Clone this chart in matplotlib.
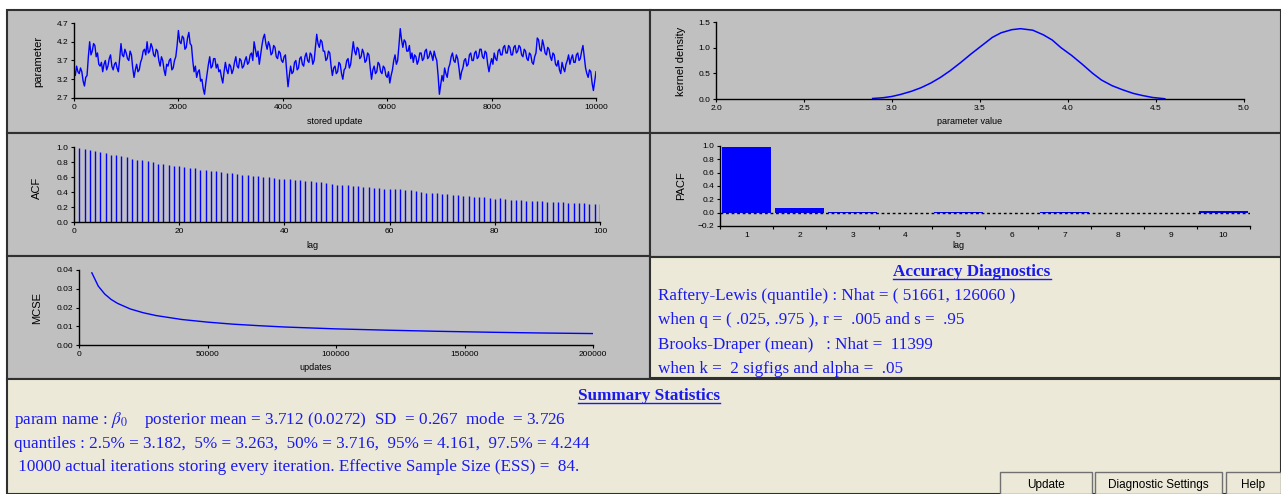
"""
MCMC diagnostics screen for beta_0 (trace, kernel density, ACF, PACF, MCSE + summary text).
"""
import numpy as np
import matplotlib
matplotlib.use('Agg')
import matplotlib.pyplot as plt
from matplotlib.patches import Rectangle
from matplotlib.lines import Line2D

plt.rcParams['font.family'] = 'Liberation Sans'
plt.rcParams['mathtext.fontset'] = 'stix'

# ---- data ----
trace_iter = np.arange(0, 10001, 25)
trace_val = [
  3.45, 3.30, 3.55, 3.40, 3.35, 3.50, 3.40, 3.15, 3.02, 3.25, 3.30, 3.80, 4.20, 3.85, 3.95, 4.15, 4.10, 3.80, 3.90, 3.60,
  3.55, 3.65, 3.40, 3.60, 3.70, 3.45, 3.55, 3.75, 3.85, 3.55, 3.45, 3.60, 3.65, 3.50, 3.40, 3.75, 4.15, 3.85, 3.80, 4.00,
  3.90, 3.75, 3.70, 3.95, 3.85, 3.50, 3.25, 3.45, 3.60, 3.40, 3.45, 3.65, 3.75, 3.95, 4.00, 3.85, 4.20, 3.90, 3.95, 4.15,
  4.05, 3.85, 3.80, 4.00, 3.95, 3.70, 3.55, 3.80, 3.70, 3.45, 3.30, 3.60, 3.55, 3.70, 3.75, 3.45, 3.50, 3.70, 3.80, 4.10,
  4.50, 4.20, 4.15, 4.35, 4.30, 4.00, 4.05, 4.30, 4.45, 4.15, 4.10, 3.70, 3.40, 3.55, 3.25, 3.40, 3.45, 3.15, 3.20, 2.95,
  2.80, 3.10, 3.35, 3.60, 3.80, 3.50, 3.55, 3.75, 3.75, 3.50, 3.60, 3.40, 3.45, 3.25, 3.10, 3.40, 3.65, 3.45, 3.35, 3.60,
  3.55, 3.35, 3.45, 3.65, 3.80, 3.55, 3.50, 3.75, 3.70, 3.50, 3.55, 3.70, 3.80, 3.60, 3.65, 3.85, 3.90, 3.70, 4.20, 4.00,
  3.80, 3.95, 3.60, 3.85, 4.10, 4.30, 4.40, 4.15, 4.00, 4.20, 4.10, 3.85, 3.90, 4.10, 4.05, 3.80, 3.75, 3.95, 3.90, 3.70,
  3.65, 3.80, 3.85, 3.40, 3.00, 3.30, 3.55, 3.35, 3.40, 3.65, 3.70, 3.45, 3.50, 3.75, 3.80, 3.60, 3.55, 3.80, 3.90, 3.70,
  3.65, 3.90, 3.85, 3.60, 3.70, 4.05, 4.40, 4.15, 4.05, 4.25, 4.20, 3.95, 3.95, 3.70, 3.75, 3.95, 3.90, 3.55, 3.30, 3.50,
  3.55, 3.35, 3.40, 3.65, 3.60, 3.35, 3.20, 3.45, 3.50, 3.70, 3.75, 3.50, 3.60, 3.90, 4.20, 3.95, 3.85, 4.05, 4.00, 3.75,
  3.80, 4.00, 3.90, 3.65, 3.70, 3.90, 3.85, 3.50, 3.20, 3.45, 3.55, 3.35, 3.40, 3.65, 3.60, 3.40, 3.35, 3.55, 3.50, 3.30,
  3.25, 3.40, 3.10, 3.30, 3.45, 3.70, 3.85, 3.60, 3.70, 4.10, 4.55, 4.25, 4.05, 4.25, 4.20, 3.95, 3.95, 4.10, 3.75, 3.90,
  3.65, 3.85, 3.80, 3.60, 3.70, 3.90, 3.90, 3.70, 3.75, 3.95, 4.00, 3.75, 3.80, 3.95, 3.85, 3.70, 3.95, 3.80, 3.70, 3.30,
  2.80, 3.05, 3.30, 3.15, 3.50, 3.35, 3.25, 3.50, 3.60, 3.80, 3.90, 3.70, 3.65, 3.85, 3.75, 3.50, 3.20, 3.40, 3.50, 3.70,
  3.75, 3.55, 3.60, 3.85, 3.90, 3.70, 3.70, 3.90, 3.95, 3.75, 3.80, 4.00, 4.00, 3.80, 3.75, 3.95, 3.90, 3.60, 3.40, 3.60,
  3.75, 3.60, 3.90, 3.75, 3.70, 3.95, 4.00, 3.85, 3.85, 4.05, 4.10, 3.90, 3.90, 4.10, 4.05, 3.85, 3.85, 4.05, 4.10, 3.90,
  3.95, 4.10, 4.05, 3.85, 3.80, 4.00, 3.95, 3.75, 3.70, 3.90, 3.85, 3.65, 3.60, 3.80, 3.90, 4.30, 4.25, 4.00, 3.95, 4.25,
  4.10, 3.90, 3.85, 4.05, 4.00, 3.80, 3.70, 3.90, 3.85, 3.60, 3.55, 3.70, 3.45, 3.35, 3.65, 3.50, 3.40, 3.60, 3.70, 3.85,
  3.60, 3.75, 3.85, 3.65, 3.65, 3.85, 3.90, 3.70, 3.75, 3.95, 4.10, 3.80, 3.50, 3.35, 3.25, 3.45, 3.40, 3.10, 2.90, 3.15,
  3.40]

kd_x = [2.89, 2.95, 3.00, 3.05, 3.11, 3.165, 3.22, 3.275, 3.33, 3.39, 3.45, 3.51, 3.57, 3.62, 3.68, 3.73,
        3.80, 3.86, 3.91, 3.96, 4.02, 4.08, 4.14, 4.19, 4.25, 4.31, 4.37, 4.42, 4.48, 4.55]
kd_y = [0.01, 0.025, 0.05, 0.09, 0.15, 0.22, 0.31, 0.42, 0.55, 0.71, 0.88, 1.04, 1.20, 1.29, 1.35, 1.37,
        1.34, 1.25, 1.15, 1.00, 0.85, 0.68, 0.50, 0.37, 0.26, 0.18, 0.11, 0.07, 0.03, 0.005]

acf_lag = np.arange(1, 101)
acf_val = [
  0.99, 0.98, 0.96, 0.95, 0.93, 0.92, 0.90, 0.89, 0.875, 0.865,
  0.845, 0.83, 0.825, 0.81, 0.80, 0.78, 0.775, 0.76, 0.75, 0.745,
  0.73, 0.72, 0.715, 0.70, 0.69, 0.68, 0.675, 0.665, 0.655, 0.65,
  0.64, 0.63, 0.63, 0.62, 0.615, 0.605, 0.60, 0.59, 0.58, 0.575,
  0.575, 0.56, 0.56, 0.545, 0.545, 0.53, 0.53, 0.515, 0.51, 0.50,
  0.50, 0.50, 0.485, 0.48, 0.47, 0.465, 0.46, 0.45, 0.445, 0.44,
  0.435, 0.435, 0.425, 0.425, 0.415, 0.40, 0.39, 0.39, 0.385, 0.37,
  0.37, 0.365, 0.355, 0.345, 0.345, 0.34, 0.33, 0.33, 0.32, 0.31,
  0.315, 0.305, 0.295, 0.295, 0.295, 0.28, 0.28, 0.28, 0.278, 0.27,
  0.265, 0.27, 0.265, 0.255, 0.255, 0.255, 0.25, 0.24, 0.24, 0.24]

pacf_lag = np.arange(1, 11)
pacf_val = [0.99, 0.07, 0.01, -0.005, 0.01, 0.0, 0.01, 0.0, 0.0, 0.03]

mcse_upd = [5000, 7500, 10000, 12500, 15000, 20000, 25000, 30000, 40000, 50000,
            60000, 70000, 80000, 100000, 120000, 140000, 160000, 180000, 200000]
mcse_val = [0.0385, 0.0314, 0.0272, 0.0243, 0.0222, 0.0192, 0.0172, 0.0157, 0.0136, 0.0122,
            0.0111, 0.0103, 0.0096, 0.0086, 0.0079, 0.0073, 0.0068, 0.0064, 0.0061]

acc_title = 'Accuracy Diagnostics'
acc_lines = ['Raftery-Lewis (quantile) : Nhat = ( 51661, 126060 )',
             'when q = ( .025, .975 ), r =  .005 and s =  .95',
             'Brooks-Draper (mean)   : Nhat =  11399',
             'when k =  2 sigfigs and alpha =  .05']
sum_title = 'Summary Statistics'
sum_lines = [r'param name : $\beta_0$    posterior mean = 3.712 (0.0272)  SD  = 0.267  mode  = 3.726',
             'quantiles : 2.5% = 3.182,  5% = 3.263,  50% = 3.716,  95% = 4.161,  97.5% = 4.244',
             ' 10000 actual iterations storing every iteration. Effective Sample Size (ESS) =  84.']
buttons = ['Update', 'Diagnostic Settings', 'Help']

# ---- layout helpers (pixel coords, top-left origin) ----
W, H = 1281, 494
GRAY = '#c0c0c0'
BEIGE = '#ece9d8'
BLUE = '#0000ff'
TXT = '#1a1aee'


def box(l, t, r, b):
  return [l / W, 1 - b / H, (r - l) / W, (b - t) / H]


fig = plt.figure(figsize=(W / 100, H / 100), dpi=100)
fig.patch.set_facecolor('white')


def panel(l, t, r, b, color):
  fig.add_artist(Rectangle((l / W, 1 - b / H), (r - l) / W, (b - t) / H,
                           transform=fig.transFigure, facecolor=color,
                           edgecolor='#303030', linewidth=1.5, zorder=-5))


def fix_axes(ax):
  ax.set_facecolor('none')
  for s in ['top', 'right']:
    ax.spines[s].set_visible(False)
  for s in ['left', 'bottom']:
    ax.spines[s].set_linewidth(1.0)
  ax.tick_params(labelsize=6, length=2.5, width=0.8, pad=1.5, direction='out')


def ylab(x, y, s):
  fig.text(x / W, 1 - y / H, s, rotation=90, ha='center', va='center', fontsize=8)


def xlab(x, y, s):
  fig.text(x / W, 1 - y / H, s, ha='center', va='center', fontsize=6.5)


panel(7, 10, 650, 133, GRAY)
panel(650, 10, 1281, 133, GRAY)
panel(7, 133, 650, 256, GRAY)
panel(650, 133, 1281, 257, GRAY)
panel(7, 256, 650, 379, GRAY)
panel(650, 257, 1281, 378, BEIGE)
panel(7, 379, 1281, 494, BEIGE)

# trace
ax = fig.add_axes(box(74, 23, 596, 98))
ax.plot(trace_iter, trace_val, color=BLUE, lw=1.0)
ax.set_xlim(0, 10000)
ax.set_ylim(2.7, 4.7)
ax.set_xticks(range(0, 10001, 2000))
ax.set_yticks([2.7, 3.2, 3.7, 4.2, 4.7])
fix_axes(ax)
ylab(38, 61, 'parameter')
xlab(335, 122, 'stored update')

# kernel density
ax = fig.add_axes(box(716, 22, 1244, 99))
ax.plot(kd_x, kd_y, color=BLUE, lw=1.1)
ax.set_xlim(2.0, 5.0)
ax.set_ylim(0, 1.5)
ax.set_xticks(np.arange(2.0, 5.01, 0.5))
ax.set_yticks([0.0, 0.5, 1.0, 1.5])
ax.xaxis.set_major_formatter('{x:.1f}')
ax.yaxis.set_major_formatter('{x:.1f}')
fix_axes(ax)
ylab(681, 61, 'kernel density')
xlab(970, 122, 'parameter value')

# ACF
ax = fig.add_axes(box(74, 147, 600, 222))
ax.vlines(acf_lag, 0, acf_val, color=BLUE, lw=1.0)
ax.set_xlim(0, 100)
ax.set_ylim(0, 1.0)
ax.set_xticks(range(0, 101, 20))
ax.set_yticks(np.arange(0, 1.01, 0.2))
ax.yaxis.set_major_formatter('{x:.1f}')
fix_axes(ax)
ylab(37, 188, 'ACF')
xlab(312, 246, 'lag')

# PACF
ax = fig.add_axes(box(720, 146, 1250, 226))
ax.bar(pacf_lag, pacf_val, width=0.92, color=BLUE)
ax.axhline(0, color='black', lw=1.0, ls=(0, (2, 2)))
ax.set_xlim(0.5, 10.5)
ax.set_ylim(-0.2, 1.0)
ax.set_xticks(np.arange(0.5, 10.6, 1.0))
ax.set_xticklabels([])
ax.set_xticks(pacf_lag, minor=True)
ax.set_xticklabels([str(v) for v in pacf_lag], minor=True)
ax.set_yticks(np.arange(-0.2, 1.01, 0.2))
ax.yaxis.set_major_formatter('{x:.1f}')
fix_axes(ax)
ax.tick_params(axis='x', which='minor', length=0, labelsize=6, pad=4)
ylab(681, 186, 'PACF')
xlab(958, 246, 'lag')

# MCSE
ax = fig.add_axes(box(79, 270, 593, 345))
ax.plot(mcse_upd, mcse_val, color=BLUE, lw=1.0)
ax.set_xlim(0, 200000)
ax.set_ylim(0, 0.04)
ax.set_xticks(range(0, 200001, 50000))
ax.set_yticks(np.arange(0, 0.0401, 0.01))
ax.yaxis.set_major_formatter('{x:.2f}')
fix_axes(ax)
ylab(37, 308, 'MCSE')
xlab(315, 367, 'updates')

# text panels
serif = 'Liberation Serif'
fs = 12.3
titles = []
t = fig.text(972 / W, 1 - 272 / H, acc_title, ha='center', va='center', fontsize=fs,
             fontweight='bold', color=TXT, family=serif)
titles.append(t)
for i, s in enumerate(acc_lines):
  fig.text(658 / W, 1 - (296 + 24.3 * i) / H, s, ha='left', va='center', fontsize=fs,
           color=TXT, family=serif)

t = fig.text(649 / W, 1 - 396 / H, sum_title, ha='center', va='center', fontsize=fs,
             fontweight='bold', color=TXT, family=serif)
titles.append(t)
for i, s in enumerate(sum_lines):
  fig.text(14 / W, 1 - (420 + 23.5 * i) / H, s, ha='left', va='center', fontsize=fs,
           color=TXT, family=serif)

# buttons
for (l, r), s in zip([(1000, 1092), (1095, 1222), (1226, 1281)], buttons):
  fig.add_artist(Rectangle((l / W, 0), (r - l) / W, (494 - 472) / H, transform=fig.transFigure,
                           facecolor=BEIGE, edgecolor='#707070', linewidth=1.0, zorder=2))
  fig.text((l + r) / 2 / W, 1 - 485 / H, s, ha='center', va='center', fontsize=8.5,
           color='black', zorder=3)

# underline the bold titles
fig.canvas.draw()
for t in titles:
  bb = t.get_window_extent()
  fig.add_artist(Line2D([bb.x0 / W, bb.x1 / W], [(bb.y0 + 1) / H, (bb.y0 + 1) / H],
                        transform=fig.transFigure, color=TXT, lw=1.0))

fig.savefig('out.png', dpi=100)
